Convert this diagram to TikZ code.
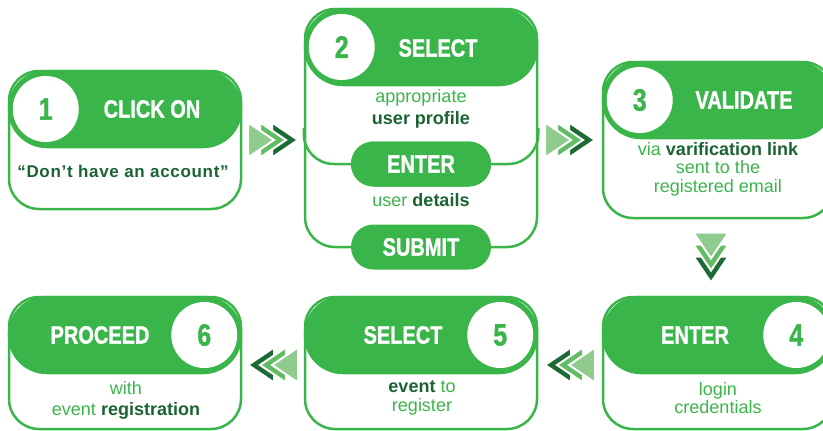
\documentclass[tikz,border=0pt]{standalone}
\usepackage{fontspec}
\setmainfont{Liberation Sans}
\newfontfamily\titlefont[FakeStretch=0.8,FakeBold=1.2]{Liberation Sans}
\newfontfamily\quotefont[LetterSpace=4]{Liberation Sans}
\usetikzlibrary{calc}
\newcommand\darkbf[1]{\textcolor{deep}{\bfseries #1}}

\begin{document}
\begin{tikzpicture}[x=1pt,y=-1pt,
  stepbox/.style={draw=leaf,line width=2.5pt,rounded corners=30pt,minimum width=232pt,inner sep=0pt},
  headbar/.style={fill=leaf,draw=leaf,line width=2.5pt,rounded corners=38pt,minimum width=232pt,minimum height=76pt,inner sep=0pt,anchor=north},
  numdot/.style={circle,fill=white,minimum size=66pt,inner sep=0pt,text=leaf,font=\titlefont\bfseries\fontsize{31}{31}\selectfont},
  steptitle/.style={text=white,inner sep=0pt,font=\titlefont\bfseries\fontsize{25}{25}\selectfont},
  subpill/.style={fill=leaf,rounded corners=22.5pt,minimum width=140pt,minimum height=45pt,inner sep=0pt,text=white,font=\titlefont\bfseries\fontsize{25}{25}\selectfont},
  steptext/.style={text=leaf,align=center,inner sep=0pt,font=\fontsize{18}{21}\selectfont},
  divider/.style={draw=leaf,line width=2.5pt,rounded corners=30pt},
  arrowtri/.style={draw=white,line width=2pt}]
\definecolor{leaf}{HTML}{39B54A}
\definecolor{deep}{HTML}{1B6332}
\definecolor{mint}{HTML}{8FCB8C}
\definecolor{fern}{HTML}{62BC63}
\definecolor{pine}{HTML}{1C6B35}
\useasboundingbox (0,0) rectangle (823,431);

% step 1
\node[stepbox,minimum height=138pt] (box1) at (125,140) {};
\node[headbar] (head1) at (box1.north) {};
\node[numdot] (num1) at ([xshift=38pt]head1.west) {1};
\node[steptitle] (title1) at (152,109) {CLICK ON};
\node[steptext,font=\quotefont\bfseries\fontsize{17}{20}\selectfont,text=deep] (text1) at (123,171) {“Don’t have an account”};

% step 2
\node[stepbox,minimum height=238pt] (box2) at (421,128) {};
\node[headbar] (head2) at (box2.north) {};
\node[numdot] (num2) at ([xshift=38pt]head2.west) {2};
\node[steptitle] (title2) at (438,48) {SELECT};
\node[subpill] (enter) at (421,164) {};
\draw[divider] (box2.west) |- (enter.center) -| (box2.east);
\node[subpill] (enter) at (421,164) {ENTER};
\node[subpill] (submit) at (421,247) {SUBMIT};
\node[steptext,font=\fontsize{18}{22}\selectfont] (text2a) at (421,109) {appropriate\\\darkbf{user profile}};
\node[steptext] (text2b) at (421,200) {user \darkbf{details}};

% step 3
\node[stepbox,minimum width=230pt,minimum height=156pt] (box3) at (718,140) {};
\node[headbar,minimum width=230pt] (head3) at (box3.north) {};
\node[numdot] (num3) at ([xshift=38pt]head3.west) {3};
\node[steptitle] (title3) at (744,100) {VALIDATE};
\node[steptext,font=\fontsize{18}{18.5}\selectfont] (text3) at (718,169) {via \darkbf{varification link}\\sent to the\\registered email};

% step 4
\node[stepbox,minimum width=230pt,minimum height=132pt] (box4) at (718,363) {};
\node[headbar,minimum width=230pt] (head4) at (box4.north) {};
\node[numdot] (num4) at ([xshift=-38pt]head4.east) {4};
\node[steptitle] (title4) at (695,335) {ENTER};
\node[steptext,font=\fontsize{18}{18.5}\selectfont] (text4) at (718,398) {login\\credentials};

% step 5
\node[stepbox,minimum height=132pt] (box5) at (421,363) {};
\node[headbar] (head5) at (box5.north) {};
\node[numdot] (num5) at ([xshift=-38pt]head5.east) {5};
\node[steptitle] (title5) at (403,335) {SELECT};
\node[steptext,font=\fontsize{18}{18.5}\selectfont] (text5) at (422,398) {\darkbf{event} to\\register};

% step 6
\node[stepbox,minimum height=132pt] (box6) at (125,363) {};
\node[headbar] (head6) at (box6.north) {};
\node[numdot] (num6) at ([xshift=-38pt]head6.east) {6};
\node[steptitle] (title6) at (100,335) {PROCEED};
\node[steptext] (text6) at (126,400) {with\\event \darkbf{registration}};

% chevrons between the steps
\coordinate (gap12) at ($(box1.east)!0.5!(box2.west |- box1.east)$);
\coordinate (gap23) at ($(box2.east |- box3.west)!0.5!(box3.west)$);
\coordinate (gap34) at ($(box3.south)!0.5!(box4.north)+(-7,0)$);
\coordinate (gap45) at ($(box5.east)!0.5!(box4.west)+(0,2)$);
\coordinate (gap56) at ($(box6.east)!0.5!(box5.west)+(0,2)$);
\foreach \gap/\turn in {gap12/0,gap23/0,gap34/-90,gap45/180,gap56/180}
  \foreach \shade/\off in {pine/12,fern/0,mint/-12}
    \filldraw[arrowtri,fill=\shade,shift={(\gap)},rotate=\turn]
      (\off-13,-17.5) -- (\off+13,0) -- (\off-13,17.5) -- cycle;
\end{tikzpicture}
\end{document}
